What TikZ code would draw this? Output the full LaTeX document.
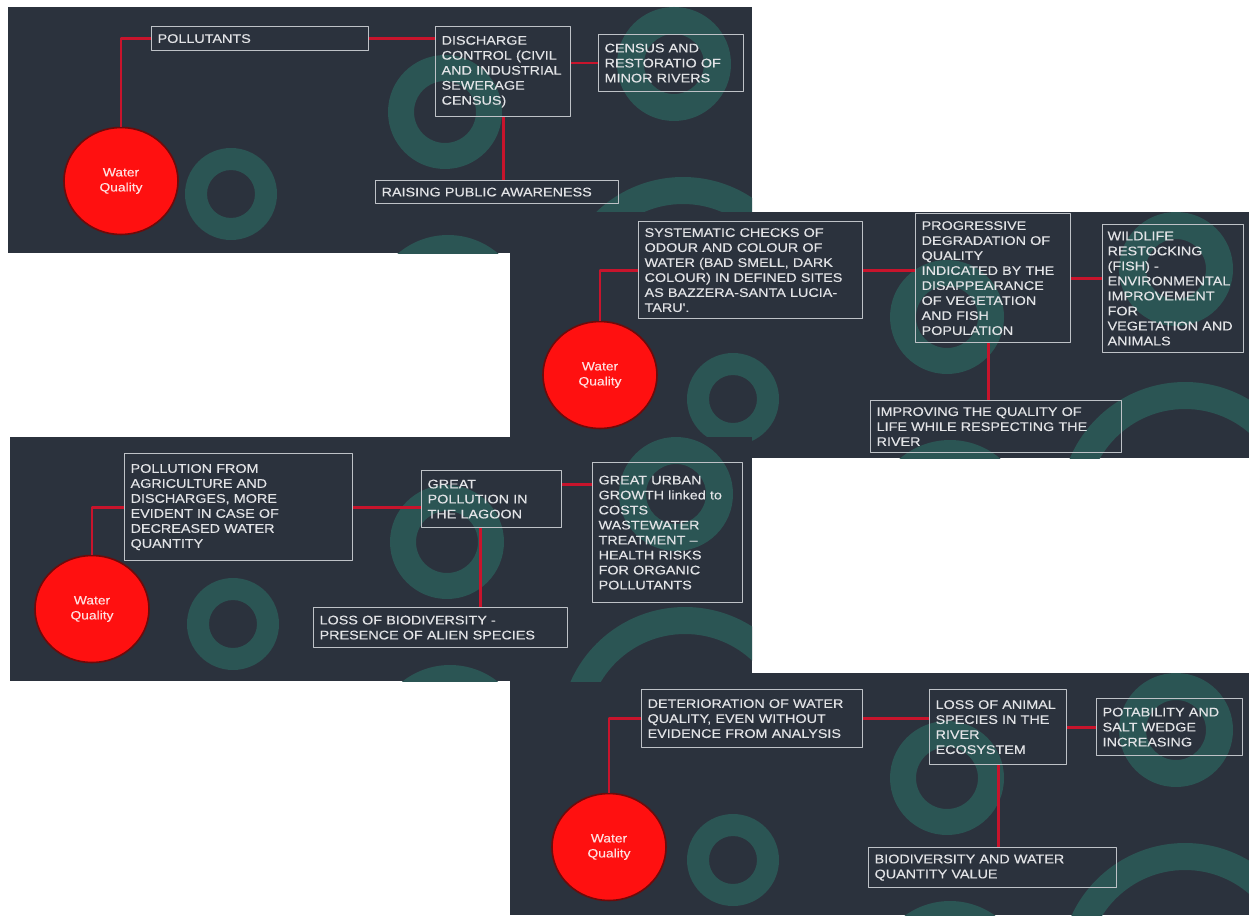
\documentclass[tikz,border=0pt]{standalone}
\usepackage{fontspec}
\newfontfamily\slidefont[FakeStretch=1.15, FakeBold=0.3]{Liberation Sans}
\usetikzlibrary{shapes.geometric}
\definecolor{slate}{HTML}{2B323D}
\definecolor{ringteal}{HTML}{2B5554}
\definecolor{boxline}{HTML}{BEC2C7}
\definecolor{paper}{HTML}{E2E3E6}
\definecolor{linkred}{HTML}{C8142C}
\definecolor{wqred}{HTML}{FF1010}
\definecolor{wqrim}{HTML}{6E0A0A}
\newcommand{\panelbg}[4]{%
  \fill[slate] (#1,#2) rectangle (#3,#4);
  \begin{scope}
    \clip (#1,#2) rectangle (#3,#4);
    \foreach \cx/\cy/\ro/\ri in {223/187/46/24, 437/105/57/31, 666/57/57/30, 675/295/125/98, 440/305/77/50}
      \fill[ringteal, even odd rule, shift={(#1,#2)}] (\cx,\cy) circle (\ro) (\cx,\cy) circle (\ri);
  \end{scope}}
\tikzset{
  idea/.style={draw=boxline, line width=1.2pt, text=paper, align=left, anchor=north west,
    inner xsep=6pt, inner ysep=3pt, font=\slidefont\fontsize{12.5}{15}\selectfont},
  wq/.style={ellipse, draw=wqrim, line width=1.6pt, fill=wqred, minimum width=114pt,
    minimum height=107pt, align=center, text=white!88!red,
    font=\slidefont\fontsize{12}{15}\selectfont},
  link/.style={draw=linkred, line width=2.8pt}
}
\begin{document}
\begin{tikzpicture}[x=1pt, y=-1pt, line join=round]
\fill[white] (0,0) rectangle (1249,915);
\useasboundingbox (0,0) rectangle (1249,915);

\panelbg{8}{7}{752}{253}
\node[wq] (wq1) at (121,181) {Water\\Quality};
\node[idea, text width=205pt, minimum height=24pt] (poll) at (151,26) {POLLUTANTS};
\node[idea, text width=123pt, minimum height=90pt] (disc) at (435,26) {DISCHARGE\\CONTROL (CIVIL\\AND INDUSTRIAL\\SEWERAGE\\CENSUS)};
\node[idea, text width=133pt, minimum height=57pt] (cens) at (598,34) {CENSUS AND\\RESTORATIO OF\\MINOR RIVERS};
\node[idea, text width=231pt, minimum height=23pt] (raise) at (375,180) {RAISING PUBLIC AWARENESS};
\draw[link] (wq1.north) |- (poll.west);
\draw[link] (poll.east) -- (poll.east -| disc.west);
\draw[link] (cens.west -| disc.east) -- (cens.west);
\draw[link] (disc.south) -- (disc.south |- raise.north);

\panelbg{510}{212}{1249}{458}
\node[wq] (wq2) at (600,375) {Water\\Quality};
\node[idea, text width=212pt, minimum height=97pt] (sys) at (638,221) {SYSTEMATIC CHECKS OF\\ODOUR AND COLOUR OF\\WATER (BAD SMELL, DARK\\COLOUR) IN DEFINED SITES\\AS BAZZERA-SANTA LUCIA-\\TARU'.};
\node[idea, text width=143pt, minimum height=129pt] (prog) at (915,213) {PROGRESSIVE\\DEGRADATION OF\\QUALITY\\INDICATED BY THE\\DISAPPEARANCE\\OF VEGETATION\\AND FISH\\POPULATION};
\node[idea, text width=131pt, inner xsep=5pt, minimum height=128pt] (wild) at (1102,224) {WILDLIFE\\RESTOCKING\\(FISH) -\\ENVIRONMENTAL\\IMPROVEMENT\\FOR\\VEGETATION AND\\ANIMALS};
\node[idea, text width=239pt, minimum height=52pt] (impr) at (870,400) {IMPROVING THE QUALITY OF\\LIFE WHILE RESPECTING THE\\RIVER};
\draw[link] (wq2.north) |- (sys.west);
\draw[link] (sys.east) -- (sys.east -| prog.west);
\draw[link] (prog.east) -- (prog.east -| wild.west);
\draw[link] ([xshift=-5pt]prog.south) -- ([xshift=-5pt]prog.south |- impr.north);

\panelbg{510}{673}{1249}{915}
\node[wq] (wq4) at (609,847) {Water\\Quality};
\node[idea, text width=209pt, minimum height=58pt] (det) at (641,689) {DETERIORATION OF WATER\\QUALITY, EVEN WITHOUT\\EVIDENCE FROM ANALYSIS};
\node[idea, text width=125pt, minimum height=75pt] (lossa) at (929,689) {LOSS OF ANIMAL\\SPECIES IN THE\\RIVER\\ECOSYSTEM};
\node[idea, text width=134pt, minimum height=57pt] (pot) at (1096,698) {POTABILITY AND\\SALT WEDGE\\INCREASING};
\node[idea, text width=236pt, minimum height=40pt] (bio) at (868,847) {BIODIVERSITY AND WATER\\QUANTITY VALUE};
\draw[link] (wq4.north) |- (det.west);
\draw[link] (det.east) -- (det.east -| lossa.west);
\draw[link] (lossa.east) -- (lossa.east -| pot.west);
\draw[link] (lossa.south) -- (lossa.south |- bio.north);

\panelbg{10}{437}{752}{681}
\node[wq] (wq3) at (92,609) {Water\\Quality};
\node[idea, text width=216pt, minimum height=107pt] (pollu) at (124,453) {POLLUTION FROM\\AGRICULTURE AND\\DISCHARGES, MORE\\EVIDENT IN CASE OF\\DECREASED WATER\\QUANTITY};
\node[idea, text width=128pt, minimum height=57pt] (great) at (421,470) {GREAT\\POLLUTION IN\\THE LAGOON};
\node[idea, text width=138pt, minimum height=140pt] (urban) at (592,462) {GREAT URBAN\\GROWTH linked to\\COSTS\\WASTEWATER\\TREATMENT –\\HEALTH RISKS\\FOR ORGANIC\\POLLUTANTS};
\node[idea, text width=242pt, minimum height=40pt] (bdiv) at (313,607) {LOSS OF BIODIVERSITY -\\PRESENCE OF ALIEN SPECIES};
\draw[link] (wq3.north) |- (pollu.west);
\draw[link] (pollu.east) -- (pollu.east -| great.west);
\draw[link] ([yshift=15pt]great.east) -- ([yshift=15pt]great.east -| urban.west);
\draw[link] ([xshift=-11pt]great.south) -- ([xshift=-11pt]great.south |- bdiv.north);
\end{tikzpicture}
\end{document}
